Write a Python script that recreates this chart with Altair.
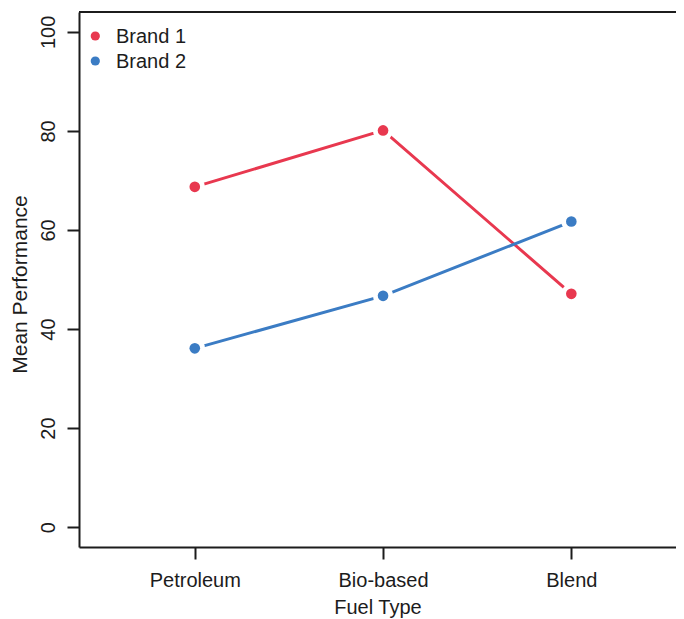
import altair as alt
import pandas as pd

# ---- data ----
fuel_types = ["Petroleum", "Bio-based", "Blend"]
fuel_pos = [1, 2, 3]
brands = ["Brand 1", "Brand 2"]
brand1_means = [68.7, 80.1, 47.1]
brand2_means = [36.1, 46.7, 61.7]
brand_colors = ["#E8384F", "#3B7CC4"]
y_ticks = [0, 20, 40, 60, 80, 100]

rows = []
for b, vals in zip(brands, [brand1_means, brand2_means]):
    for f, p, v in zip(fuel_types, fuel_pos, vals):
        rows.append({"brand": b, "fuel": f, "pos": p, "mean": v})
df = pd.DataFrame(rows)

FONT = "Liberation Sans"
INK = "#1c1c1c"
FS = 20

label_expr = " : ".join(
    f"datum.value == {p} ? '{f}'" for p, f in zip(fuel_pos, fuel_types)
) + " : ''"

x_enc = alt.X(
    "pos:Q",
    scale=alt.Scale(domain=[0.385, 3.556], nice=False, zero=False),
    axis=alt.Axis(
        values=fuel_pos, labelExpr=label_expr, title="Fuel Type", grid=False,
        tickSize=12, tickWidth=2, tickColor=INK, domainColor=INK, domainWidth=2,
        labelFont=FONT, labelFontSize=FS, labelColor=INK, labelBaseline="alphabetic",
        labelPadding=27, labelOverlap=False, labelFlush=False,
        titleFont=FONT, titleFontSize=FS, titleFontWeight="normal", titleColor=INK,
        titleBaseline="alphabetic", titleY=66,
    ),
)
y_enc = alt.Y(
    "mean:Q",
    scale=alt.Scale(domain=[-4, 104], nice=False, zero=False),
    axis=alt.Axis(
        values=y_ticks, title="Mean Performance", grid=False,
        tickSize=12, tickWidth=2, tickColor=INK, domainColor=INK, domainWidth=2,
        labelFont=FONT, labelFontSize=FS, labelColor=INK, labelAngle=270,
        labelAlign="center", labelBaseline="alphabetic", labelPadding=13,
        labelOverlap=False, labelFlush=False,
        titleFont=FONT, titleFontSize=21, titleFontWeight="normal", titleColor=INK,
        titleAngle=270, titleAlign="center", titleBaseline="alphabetic",
        titleX=-53, titleY=272,
    ),
)

color_scale = alt.Scale(domain=brands, range=brand_colors)
base = alt.Chart(df)

lines = base.mark_line(strokeWidth=3).encode(
    x=x_enc, y=y_enc,
    color=alt.Color("brand:N", scale=color_scale, legend=None),
)
gaps = base.mark_point(filled=True, color="white", opacity=1, size=415, strokeWidth=0).encode(
    x=x_enc, y=y_enc,
)
points = base.mark_circle(opacity=1, size=113).encode(
    x=x_enc, y=y_enc,
    color=alt.Color("brand:N", scale=color_scale, legend=None),
)
top_border = base.mark_rule(color=INK, strokeWidth=2).encode(
    x=alt.value(0), x2=alt.value(597), y=alt.value(0),
)

# legend (top-left inside the frame), one row per brand
legend_layers = []
for i, (b, c) in enumerate(zip(brands, brand_colors)):
    ldf = pd.DataFrame({"brand": [b]})
    legend_layers.append(
        alt.Chart(ldf).mark_circle(color=c, opacity=1, size=85).encode(
            x=alt.value(16.3), y=alt.value(24 + 25 * i)
        )
    )
    legend_layers.append(
        alt.Chart(ldf).mark_text(
            align="left", baseline="middle", font=FONT, fontSize=FS, color=INK
        ).encode(text="brand:N", x=alt.value(37), y=alt.value(24.5 + 25 * i))
    )

chart = alt.layer(lines, gaps, points, top_border, *legend_layers).properties(
    width=597, height=535,
    autosize=alt.AutoSizeParams(type="none"),
    padding={"left": 71, "top": 4, "right": 0, "bottom": 72},
    background="white",
).configure_view(stroke=None)

chart.save("out.html", embed_options={"renderer": "svg", "actions": False})
